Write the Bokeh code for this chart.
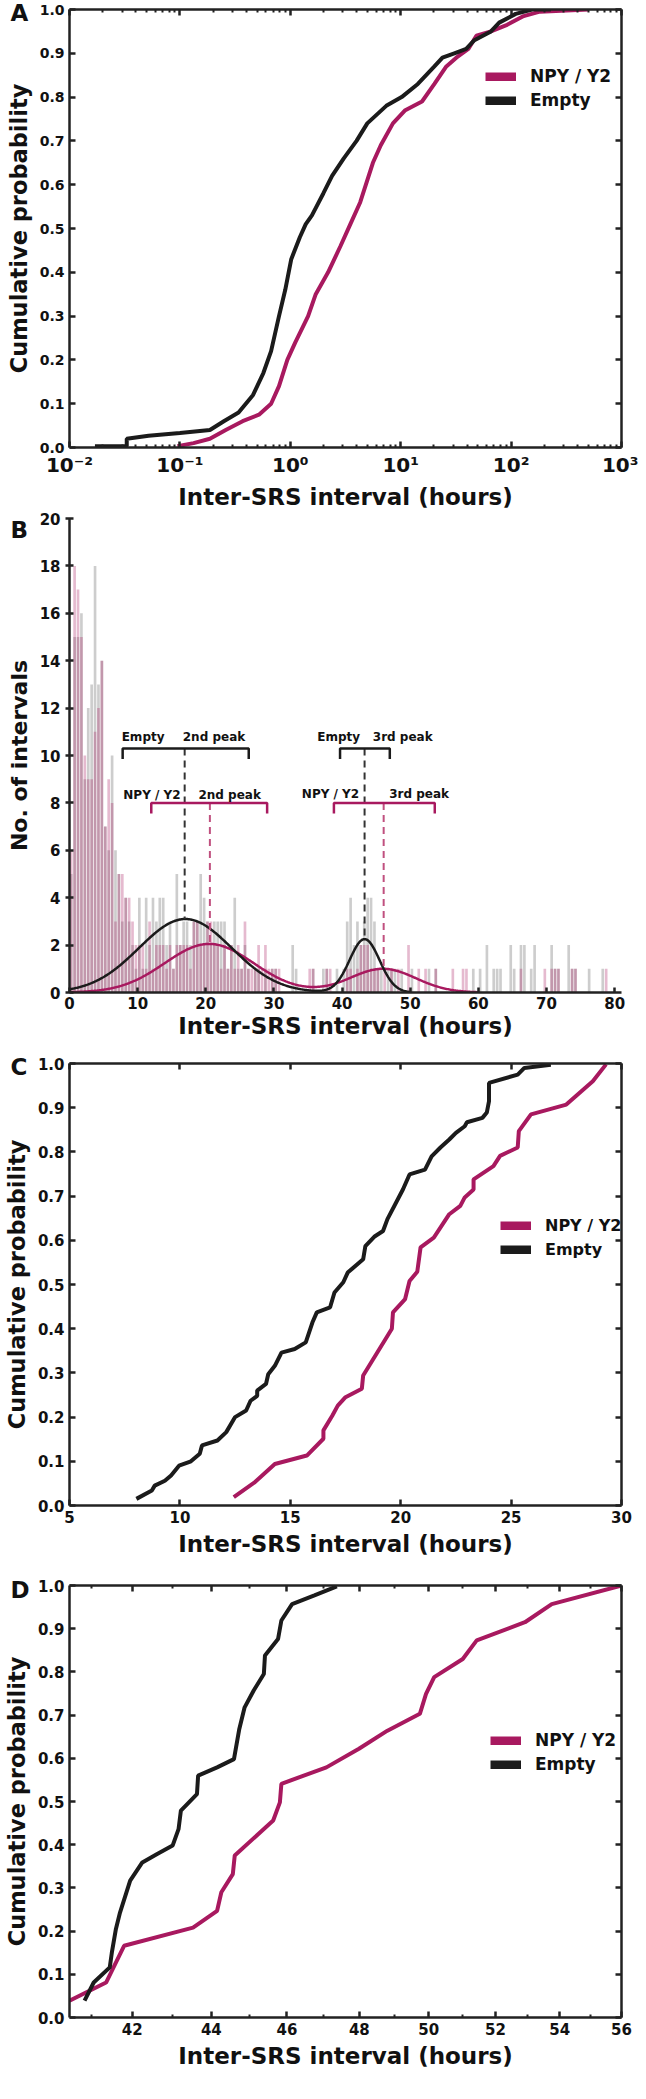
import numpy as np
from bokeh.plotting import figure
from bokeh.models import (Range1d, LinearAxis, FixedTicker, Legend, LegendItem,
                          CustomJSTickFormatter)
from bokeh.layouts import column
from bokeh.embed import file_html
from bokeh.resources import INLINE
from bokeh.core.properties import value

# ---------------- data ----------------
# Panel A: cumulative probability vs inter-SRS interval (log hours)
a_empty_x = [0.017, 0.033, 0.033, 0.052, 0.10, 0.187, 0.25, 0.34, 0.46, 0.57, 0.67, 0.79, 0.90,
             1.02, 1.22, 1.38, 1.57, 1.99, 2.39, 3.05, 3.98, 4.98, 7.4, 10.2, 14.3, 20.2, 23.9,
             30.6, 39.2, 46.5, 65.7, 78, 110, 155, 229]
a_empty_y = [0.003, 0.003, 0.02, 0.027, 0.033, 0.04, 0.06, 0.08, 0.12, 0.17, 0.22, 0.30, 0.36,
             0.43, 0.48, 0.51, 0.53, 0.58, 0.62, 0.66, 0.70, 0.74, 0.78, 0.80, 0.83, 0.87, 0.89,
             0.90, 0.91, 0.93, 0.95, 0.97, 0.99, 1.0, 1.0]
a_npy_x = [0.095, 0.133, 0.187, 0.26, 0.37, 0.52, 0.67, 0.79, 0.94, 1.11, 1.45, 1.70, 2.2, 2.85,
           3.5, 4.3, 5.6, 6.6, 8.5, 11, 15.6, 20.2, 25.9, 31.9, 41, 48.5, 65.7, 92, 130, 182, 500]
a_npy_y = [0.003, 0.01, 0.02, 0.04, 0.06, 0.075, 0.10, 0.14, 0.20, 0.24, 0.30, 0.35, 0.40, 0.46,
           0.51, 0.56, 0.65, 0.69, 0.74, 0.77, 0.79, 0.83, 0.87, 0.89, 0.91, 0.94, 0.95, 0.965,
           0.985, 0.995, 1.0]
a_xticks = [0.01, 0.1, 1, 10, 100, 1000]
a_xlabels = ["10\u207b\u00b2", "10\u207b\u00b9", "10\u2070", "10\u00b9", "10\u00b2", "10\u00b3"]

prob_ticks = [0.0, 0.1, 0.2, 0.3, 0.4, 0.5, 0.6, 0.7, 0.8, 0.9, 1.0]
prob_labels = ["0.0", "0.1", "0.2", "0.3", "0.4", "0.5", "0.6", "0.7", "0.8", "0.9", "1.0"]

# Panel B: histogram, 0.5 h bins from 0 h
bin_width_h = 0.5
b_empty_counts = [
    5, 15, 15, 16, 9, 12, 13, 18, 13, 14, 7, 6, 10, 6, 5, 3, 4, 3, 2, 1,
    4, 1, 4, 2, 4, 3, 4, 4, 2, 3, 1, 5, 2, 3, 3, 2, 3, 3, 5, 4,
    3, 2, 3, 3, 3, 3, 1, 2, 4, 1, 1, 2, 1, 0, 1, 1, 0, 1, 0, 1,
    1, 0, 0, 0, 0, 2, 1, 0, 0, 0, 0, 1, 0, 0, 1, 1, 0, 0, 1, 0,
    1, 3, 4, 2, 3, 2, 3, 4, 4, 3, 1, 1, 0, 1, 1, 1, 0, 1, 0, 0,
    1, 0, 0, 0, 0, 1, 0, 1, 0, 0, 0, 0, 0, 0, 0, 0, 0, 0, 1, 0,
    1, 0, 2, 0, 1, 1, 1, 0, 0, 2, 1, 0, 2, 2, 0, 1, 2, 0, 0, 0,
    0, 2, 1, 1, 0, 0, 2, 1, 1, 0, 0, 0, 1, 0, 0, 0, 1, 0, 0, 0]
b_npy_counts = [
    6, 18, 17, 15, 10, 9, 9, 11, 12, 14, 7, 9, 8, 3, 5, 5, 4, 4, 3, 2,
    2, 2, 1, 3, 1, 2, 2, 2, 1, 2, 1, 2, 2, 2, 2, 1, 3, 3, 2, 2,
    3, 3, 2, 2, 1, 2, 1, 2, 1, 2, 1, 3, 1, 1, 1, 2, 1, 2, 1, 1,
    1, 1, 0, 0, 0, 0, 0, 0, 0, 0, 1, 1, 0, 0, 0, 1, 1, 0, 0, 0,
    0, 1, 1, 0, 1, 2, 2, 2, 1, 1, 1, 0, 1, 0, 1, 0, 1, 0, 0, 2,
    0, 0, 1, 0, 1, 0, 0, 1, 0, 0, 0, 0, 1, 0, 0, 1, 1, 0, 0, 0,
    0, 0, 0, 0, 0, 0, 0, 0, 0, 0, 0, 0, 1, 0, 0, 0, 0, 0, 0, 1,
    0, 1, 1, 1, 0, 0, 0, 1, 1, 0, 0, 0, 0, 0, 0, 0, 0, 1, 0, 0]
# fitted Gaussian components (mean h, amplitude, sigma h)
b_fit_empty = [(17.0, 3.1, 6.8), (43.3, 2.25, 2.2)]
b_fit_npy = [(20.5, 2.05, 6.5), (46.0, 1.0, 4.8)]
b_fit_empty_xmax = 50
b_fit_npy_xmax = 60
# peak brackets
b_br_x0 = [7.8, 12.0, 39.7, 38.8]
b_br_x1 = [26.3, 29.0, 47.0, 53.6]
b_br_y = [10.3, 8.0, 10.3, 8.0]
b_br_is_npy = [False, True, False, True]
b_peak_x = [16.9, 20.6, 43.3, 46.1]
b_peak_bottom = [3.1, 2.05, 2.25, 1.0]
b_text = ["Empty", "2nd peak", "NPY / Y2", "2nd peak", "Empty", "3rd peak", "NPY / Y2", "3rd peak"]
b_text_x = [10.8, 21.2, 12.1, 23.5, 39.5, 48.9, 38.3, 51.3]
b_text_y = [10.8, 10.8, 8.35, 8.35, 10.76, 10.76, 8.38, 8.38]
b_xticks = [0, 10, 20, 30, 40, 50, 60, 70, 80]
b_yticks = [0, 2, 4, 6, 8, 10, 12, 14, 16, 18, 20]

# Panel C: 2nd peak cumulative
c_empty_x = [8.03, 8.73, 8.86, 9.32, 9.6, 9.96, 10.5, 10.9, 11.0, 11.7, 12.1, 12.5, 13.0, 13.2,
             13.5, 13.5, 13.9, 14.0, 14.3, 14.6, 15.2, 15.7, 16.0, 16.2, 16.8, 17.0, 17.4, 17.6,
             18.3, 18.4, 18.8, 19.2, 19.4, 20.1, 20.4, 21.1, 21.4, 21.8, 22.2, 22.5, 22.9, 23.0,
             23.7, 23.9, 24.0, 24.0, 25.3, 25.6, 26.8]
c_empty_y = [0.015, 0.034, 0.045, 0.056, 0.068, 0.09, 0.10, 0.117, 0.136, 0.147, 0.166, 0.20,
             0.215, 0.237, 0.248, 0.26, 0.275, 0.297, 0.316, 0.346, 0.354, 0.369, 0.414, 0.437,
             0.448, 0.482, 0.505, 0.527, 0.557, 0.587, 0.608, 0.621, 0.648, 0.715, 0.749, 0.76,
             0.79, 0.81, 0.828, 0.843, 0.858, 0.867, 0.877, 0.889, 0.915, 0.956, 0.975, 0.99, 0.997]
c_npy_x = [12.44, 13.4, 14.3, 15.75, 16.5, 16.5, 16.9, 17.15, 17.5, 18.24, 18.3, 19.6, 19.65,
           20.2, 20.4, 20.75, 20.9, 21.5, 22.2, 22.7, 22.9, 23.3, 23.3, 24.2, 24.5, 25.3, 25.35,
           25.9, 27.5, 28.7, 29.3]
c_npy_y = [0.019, 0.053, 0.094, 0.113, 0.151, 0.17, 0.203, 0.226, 0.245, 0.264, 0.294, 0.40,
           0.437, 0.467, 0.508, 0.529, 0.584, 0.606, 0.659, 0.678, 0.697, 0.715, 0.738, 0.768,
           0.791, 0.81, 0.847, 0.885, 0.907, 0.96, 0.998]
c_xticks = [5, 10, 15, 20, 25, 30]

# Panel D: 3rd peak cumulative (log x)
d_empty_x = [40.84, 41.06, 41.45, 41.50, 41.60, 41.70, 41.95, 42.25, 42.61, 43.01, 43.16, 43.22,
             43.63, 43.66, 44.15, 44.59, 44.73, 44.87, 45.11, 45.38, 45.41, 45.76, 45.85, 46.14,
             46.75, 47.37]
d_empty_y = [0.039, 0.081, 0.116, 0.15, 0.205, 0.243, 0.317, 0.359, 0.378, 0.398, 0.436, 0.479,
             0.517, 0.56, 0.579, 0.598, 0.668, 0.718, 0.757, 0.795, 0.838, 0.876, 0.919, 0.957,
             0.977, 0.998]
d_npy_x = [40.48, 41.36, 41.80, 43.53, 44.15, 44.26, 44.56, 44.61, 45.63, 45.81, 45.85, 47.08,
           47.99, 48.80, 49.74, 49.92, 50.16, 51.01, 51.43, 52.91, 53.75, 56.0]
d_npy_y = [0.039, 0.081, 0.166, 0.208, 0.247, 0.29, 0.332, 0.375, 0.456, 0.498, 0.541, 0.579,
           0.622, 0.664, 0.703, 0.749, 0.788, 0.83, 0.873, 0.915, 0.957, 1.0]
d_xticks = [42, 44, 46, 48, 50, 52, 54, 56]
d_xminor = [41, 43, 45, 47, 49, 51, 53, 55]

series_names = ["NPY / Y2", "Empty"]
x_title = "Inter-SRS interval (hours)"
panel_letters = ["A", "B", "C", "D"]

# ---------------- style ----------------
FONT = "DejaVu Sans"
PINK = "#a8195f"
BLACK = "#1b1b1b"
AXC = "#222222"
TXT = "#111111"
W = 638


def fmt(vals, labs):
    return CustomJSTickFormatter(args=dict(vals=vals, labs=labs),
                                 code="const i = vals.indexOf(tick); return i >= 0 ? labs[i] : '';")


def blank():
    return CustomJSTickFormatter(code="return '';")


def style(ax, tin=6, tout=0, minor_in=3, size="15px"):
    ax.axis_line_width = 2.5
    ax.axis_line_color = AXC
    ax.major_tick_in = tin
    ax.major_tick_out = tout
    ax.minor_tick_in = minor_in
    ax.minor_tick_out = 0
    ax.major_tick_line_width = 2.5
    ax.major_tick_line_color = AXC
    ax.minor_tick_line_width = 2
    ax.minor_tick_line_color = AXC
    ax.major_label_text_font = FONT
    ax.major_label_text_font_style = "bold"
    ax.major_label_text_font_size = size
    ax.major_label_text_color = TXT
    ax.axis_label_text_font = FONT
    ax.axis_label_text_font_style = "bold"
    ax.axis_label_text_font_size = "23px"
    ax.axis_label_text_color = TXT


def make_fig(height, top, bottom, right, xlog, xr, yr, letter, standoff):
    p = figure(width=W, height=height, x_axis_type="log" if xlog else "linear",
               x_range=xr, y_range=yr, output_backend="svg", toolbar_location=None,
               min_border_left=60, min_border_right=right, min_border_top=top,
               min_border_bottom=bottom)
    p.grid.visible = False
    p.outline_line_color = None
    p.background_fill_color = "white"
    p.title.text = letter
    p.title.text_font = FONT
    p.title.text_font_style = "bold"
    p.title.text_font_size = "23px"
    p.title.text_color = TXT
    p.title.align = "left"
    p.title.offset = -59
    p.title.standoff = standoff
    return p


def mirror(p, side, ticks, minor=None):
    ax = LinearAxis(ticker=FixedTicker(ticks=ticks, minor_ticks=minor or []),
                    formatter=blank(), major_label_standoff=0)
    style(ax)
    p.add_layout(ax, side)


def legend(p, loc, far_x, far_y, size="17px"):
    # legend swatch renderers: a single point far outside the visible range
    r1 = p.line(x=[far_x, far_x], y=[far_y, far_y], line_width=9, line_color=PINK)
    r2 = p.line(x=[far_x, far_x], y=[far_y, far_y], line_width=9, line_color=BLACK)
    lg = Legend(items=[LegendItem(label=series_names[0], renderers=[r1]),
                       LegendItem(label=series_names[1], renderers=[r2])],
                location=loc, glyph_width=31, glyph_height=9, label_height=20, spacing=4,
                padding=0, margin=0, label_standoff=14, border_line_color=None,
                background_fill_alpha=0, label_text_font=FONT, label_text_font_style="bold",
                label_text_font_size=size, label_text_color=TXT)
    p.add_layout(lg)


def ylab(ax, text, size):
    ax.axis_label = text
    ax.axis_label_text_font_size = size


# ---------------- Panel A ----------------
pa = make_fig(512, 9, 62, 17, True, Range1d(0.01, 1000), Range1d(0, 1), panel_letters[0], -32)
a_minor = [m * 10.0 ** e for e in range(-2, 3) for m in range(2, 10)]
pa.xaxis.ticker = FixedTicker(ticks=a_xticks, minor_ticks=a_minor)
pa.xaxis.formatter = fmt(a_xticks, a_xlabels)
pa.yaxis.ticker = FixedTicker(ticks=prob_ticks)
pa.yaxis.formatter = fmt(prob_ticks, prob_labels)
style(pa.xaxis[0], size="20px")
style(pa.yaxis[0], size="14px")
pa.xaxis.axis_label = x_title
ylab(pa.yaxis[0], "Cumulative probability", "22.5px")
pa.xaxis.major_label_standoff = 5
pa.xaxis.axis_label_standoff = 4
mirror(pa, "above", a_xticks, a_minor)
mirror(pa, "right", prob_ticks)
pa.line(a_npy_x, a_npy_y, line_width=4, line_color=PINK)
pa.line(a_empty_x, a_empty_y, line_width=4, line_color=BLACK)
legend(pa, (416, 337), 1e-5, -5)

# ---------------- Panel B ----------------
pb = make_fig(538, 6, 58, 16, False, Range1d(0, 81), Range1d(0, 20), panel_letters[1], -49)
pb.xaxis.ticker = FixedTicker(ticks=b_xticks)
pb.yaxis.ticker = FixedTicker(ticks=b_yticks)
style(pb.xaxis[0], tin=5, tout=0)
style(pb.yaxis[0], tin=4, tout=4)
pb.xaxis.axis_label = x_title
ylab(pb.yaxis[0], "No. of intervals", "22px")
pb.xaxis.major_label_standoff = 4
pb.xaxis.axis_label_standoff = 1
centers = [i * bin_width_h + bin_width_h / 2 for i in range(len(b_empty_counts))]
pb.vbar(x=centers, top=b_empty_counts, width=bin_width_h * 0.78, fill_color="#c8c8c8",
        fill_alpha=0.9, line_color=None)
pb.vbar(x=centers, top=b_npy_counts, width=bin_width_h * 0.78, fill_color=PINK,
        fill_alpha=0.3, line_color=None)


def gauss_sum(params, xs):
    return sum(a * np.exp(-(xs - m) ** 2 / (2 * s ** 2)) for m, a, s in params)


xe = np.linspace(0, b_fit_empty_xmax, 400)
xn = np.linspace(0, b_fit_npy_xmax, 400)
pb.line(xn, gauss_sum(b_fit_npy, xn), line_width=2.5, line_color=PINK)
pb.line(xe, gauss_sum(b_fit_empty, xe), line_width=2.5, line_color=BLACK)
for i in range(len(b_br_x0)):
    col = PINK if b_br_is_npy[i] else BLACK
    dash_col = "#c0507f" if b_br_is_npy[i] else "#333333"
    pb.line([b_peak_x[i], b_peak_x[i]], [b_br_y[i], b_peak_bottom[i]], line_width=2,
            line_color=dash_col, line_dash="7 5")
    pb.line([b_br_x0[i], b_br_x0[i], b_br_x1[i], b_br_x1[i]],
            [b_br_y[i] - 0.45, b_br_y[i], b_br_y[i], b_br_y[i] - 0.45],
            line_width=2.5, line_color=col)
pb.text(x=b_text_x, y=b_text_y, text=b_text, text_font=value(FONT), text_font_style="bold",
        text_font_size="12px", text_color=TXT, text_align="center", text_baseline="middle")

# ---------------- Panel C ----------------
pc = make_fig(520, 13, 65, 15, False, Range1d(5, 30), Range1d(0, 1), panel_letters[2], -33)
pc.xaxis.ticker = FixedTicker(ticks=c_xticks)
pc.xaxis.formatter = fmt(c_xticks, [str(v) for v in c_xticks])
pc.yaxis.ticker = FixedTicker(ticks=prob_ticks)
pc.yaxis.formatter = fmt(prob_ticks, prob_labels)
style(pc.xaxis[0])
style(pc.yaxis[0])
pc.xaxis.axis_label = x_title
ylab(pc.yaxis[0], "Cumulative probability", "22.5px")
mirror(pc, "above", c_xticks)
mirror(pc, "right", prob_ticks)
pc.line(c_npy_x, c_npy_y, line_width=4, line_color=PINK)
pc.line(c_empty_x, c_empty_y, line_width=4, line_color=BLACK)
legend(pc, (431, 246), -100, -5, "16px")

# ---------------- Panel D ----------------
pd_ = make_fig(513, 15, 66, 13, True, Range1d(40.48, 56.0), Range1d(0, 1), panel_letters[3], -35)
pd_.xaxis.ticker = FixedTicker(ticks=d_xticks, minor_ticks=d_xminor)
pd_.xaxis.formatter = fmt(d_xticks, [str(v) for v in d_xticks])
pd_.yaxis.ticker = FixedTicker(ticks=prob_ticks)
pd_.yaxis.formatter = fmt(prob_ticks, prob_labels)
style(pd_.xaxis[0])
style(pd_.yaxis[0])
pd_.xaxis.axis_label = x_title
ylab(pd_.yaxis[0], "Cumulative probability", "22.5px")
mirror(pd_, "above", d_xticks, d_xminor)
mirror(pd_, "right", prob_ticks)
pd_.line(d_npy_x, d_npy_y, line_width=4, line_color=PINK)
pd_.line(d_empty_x, d_empty_y, line_width=4, line_color=BLACK)
legend(pd_, (421, 243), 1.0, -5)

layout = column(pa, pb, pc, pd_, spacing=0)
open("out.html", "w").write(file_html(layout, INLINE))
